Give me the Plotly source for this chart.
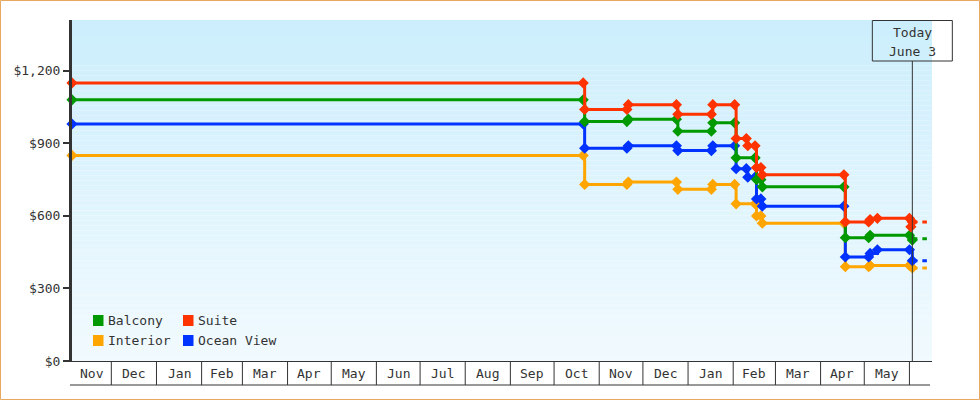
import plotly.graph_objects as go
import pandas as pd

# ---------------- data ----------------
month_labels = ["Nov", "Dec", "Jan", "Feb", "Mar", "Apr", "May", "Jun", "Jul", "Aug",
                "Sep", "Oct", "Nov", "Dec", "Jan", "Feb", "Mar", "Apr", "May"]
y_tick_vals = [0, 300, 600, 900, 1200]
y_tick_text = ["$0", "$300", "$600", "$900", "$1,200"]

suite_dates = ["2022-11-04", "2023-10-21", "2023-10-22", "2023-11-20", "2023-11-21", "2023-12-24",
               "2023-12-25", "2024-01-17", "2024-01-18", "2024-02-02", "2024-02-03", "2024-02-10",
               "2024-02-11", "2024-02-16", "2024-02-17", "2024-02-20", "2024-02-21", "2024-04-17",
               "2024-04-18", "2024-05-04", "2024-05-05", "2024-05-10", "2024-06-01", "2024-06-02",
               "2024-06-03"]
suite_prices = [1150, 1150, 1040, 1040, 1060, 1060, 1020, 1020, 1060, 1060, 920, 920,
                890, 890, 800, 800, 770, 770, 575, 575, 585, 590, 590, 555, 575]

balcony_dates = ["2022-11-04", "2023-10-21", "2023-10-22", "2023-11-20", "2023-11-21", "2023-12-24",
                 "2023-12-25", "2024-01-17", "2024-01-18", "2024-02-02", "2024-02-03", "2024-02-16",
                 "2024-02-17", "2024-02-20", "2024-02-21", "2024-04-17", "2024-04-18", "2024-05-04",
                 "2024-05-05", "2024-06-01", "2024-06-03"]
balcony_prices = [1080, 1080, 990, 990, 1000, 1000, 950, 950, 985, 985, 840, 840,
                  750, 750, 720, 720, 510, 510, 520, 520, 500]

ocean_dates = ["2022-11-04", "2023-10-21", "2023-10-22", "2023-11-20", "2023-11-21", "2023-12-24",
               "2023-12-25", "2024-01-17", "2024-01-18", "2024-02-02", "2024-02-03", "2024-02-10",
               "2024-02-11", "2024-02-16", "2024-02-17", "2024-02-20", "2024-02-21", "2024-04-17",
               "2024-04-18", "2024-05-04", "2024-05-05", "2024-05-10", "2024-06-01", "2024-06-03"]
ocean_prices = [980, 980, 880, 880, 890, 890, 870, 870, 890, 890, 795, 795,
                760, 760, 670, 670, 640, 640, 430, 430, 445, 460, 460, 415]

interior_dates = ["2022-11-04", "2023-10-21", "2023-10-22", "2023-11-20", "2023-11-21", "2023-12-24",
                  "2023-12-25", "2024-01-17", "2024-01-18", "2024-02-02", "2024-02-03", "2024-02-16",
                  "2024-02-17", "2024-02-20", "2024-02-21", "2024-04-17", "2024-04-18", "2024-05-04",
                  "2024-05-05", "2024-06-01", "2024-06-03"]
interior_prices = [850, 850, 730, 730, 740, 740, 710, 710, 730, 730, 650, 650,
                   600, 600, 570, 570, 390, 390, 395, 395, 385]

current_prices = {"Suite": 575, "Balcony": 505, "Ocean View": 415, "Interior": 385}

legend_rows = [["Balcony", "Suite"], ["Interior", "Ocean View"]]
colors = {"Balcony": "#009a00", "Suite": "#ff3300", "Interior": "#ffa500", "Ocean View": "#0033ff"}

today = "2024-06-03"
today_lines = ["Today", "June 3"]
forecast_end = "2024-06-13"
x_start = "2022-11-04"
x_end = "2024-06-16 12:00"

# ---------------- layout helpers ----------------
W, H = 980, 400
L, R, T, B = 72, 48, 20, 39
PW = W - L - R
PH = H - T - B
FONT = "DejaVu Sans Mono"
TXT = "#333333"


def px(xp):
    return (xp - L) / PW


def py(yp):
    return (H - B - yp) / PH


def date_frac(d):
    s, e = pd.Timestamp(x_start), pd.Timestamp(x_end)
    return (pd.Timestamp(d) - s) / (e - s)


fig = go.Figure()

series = [("Interior", interior_dates, interior_prices),
          ("Ocean View", ocean_dates, ocean_prices),
          ("Balcony", balcony_dates, balcony_prices),
          ("Suite", suite_dates, suite_prices)]

for name, d, p in series:
    c = colors[name]
    fig.add_trace(go.Scatter(x=[today, forecast_end], y=[current_prices[name]] * 2, mode="lines",
                             line=dict(color=c, width=3, dash="5px,5px"), showlegend=False,
                             hoverinfo="skip", cliponaxis=False))
for name, d, p in series:
    c = colors[name]
    fig.add_trace(go.Scatter(x=d, y=p, mode="lines+markers", name=name,
                             line=dict(color=c, width=3, shape="hv"),
                             marker=dict(symbol="diamond", size=7, color=c, line=dict(color=c, width=1.5)),
                             showlegend=False, cliponaxis=False))

shapes = []
# gradient background
top_c = (204, 238, 252)
bot_c = (241, 250, 254)
N = 68
for i in range(N):
    t = i / (N - 1)
    col = tuple(round(top_c[k] + (bot_c[k] - top_c[k]) * t) for k in range(3))
    shapes.append(dict(type="rect", xref="paper", yref="paper", x0=0, x1=1,
                       y0=1 - (i + 1) / N, y1=1 - i / N, fillcolor="rgb(%d,%d,%d)" % col,
                       line=dict(width=0), layer="below"))

# month boxes under the axis
month_starts = list(pd.date_range("2022-12-01", "2024-06-01", freq="MS"))
for ms in month_starts:
    shapes.append(dict(type="line", xref="x", yref="paper", x0=ms, x1=ms,
                       y0=py(385), y1=py(361), line=dict(color=TXT, width=1)))
shapes.append(dict(type="line", xref="paper", yref="paper", x0=px(70), x1=px(930),
                   y0=py(385), y1=py(385), line=dict(color=TXT, width=1)))

annotations = []
bounds = [pd.Timestamp(x_start)] + month_starts
for i, lab in enumerate(month_labels):
    mid = bounds[i] + (bounds[i + 1] - bounds[i]) / 2
    annotations.append(dict(x=mid, y=py(373), xref="x", yref="paper", text=lab, showarrow=False,
                            xanchor="center", yanchor="middle",
                            font=dict(family=FONT, size=13, color=TXT)))

# today marker (paper coordinates so it is not clipped at the plot edge)
tf = date_frac(today)
shapes.append(dict(type="line", xref="paper", yref="paper", x0=tf, x1=tf,
                   y0=0, y1=py(61), line=dict(color=TXT, width=1)))
shapes.append(dict(type="rect", xref="paper", yref="paper", xsizemode="pixel", xanchor=tf,
                   x0=-40, x1=40, y0=py(61), y1=py(20.5), line=dict(color=TXT, width=1),
                   fillcolor="rgba(0,0,0,0)"))
for txt, yy in zip(today_lines, [32.5, 51]):
    annotations.append(dict(x=tf, y=py(yy), xref="paper", yref="paper", text=txt, showarrow=False,
                            xanchor="center", yanchor="middle",
                            font=dict(family=FONT, size=13, color=TXT)))

# manual legend
col_x = [93, 183]
row_y = [320.5, 340.5]
for r, row in enumerate(legend_rows):
    for ci, name in enumerate(row):
        x0 = col_x[ci]
        yc = row_y[r]
        shapes.append(dict(type="rect", xref="paper", yref="paper", x0=px(x0), x1=px(x0 + 10.5),
                           y0=py(yc + 5.5), y1=py(yc - 5.5), fillcolor=colors[name],
                           line=dict(width=0)))
        annotations.append(dict(x=px(x0 + 13), y=py(yc), xref="paper", yref="paper", text=name,
                                showarrow=False, xanchor="left", yanchor="middle",
                                font=dict(family=FONT, size=13, color=TXT)))

# outer border
shapes.append(dict(type="rect", xref="paper", yref="paper", x0=px(0.5), x1=px(W - 0.5),
                   y0=py(H - 0.5), y1=py(0.5), line=dict(color="#e8a860", width=1)))

fig.update_layout(
    width=W, height=H,
    margin=dict(l=L, r=R, t=T, b=B, pad=0),
    paper_bgcolor="white", plot_bgcolor="rgba(0,0,0,0)",
    showlegend=False,
    shapes=shapes, annotations=annotations,
    xaxis=dict(type="date", range=[x_start, x_end], showgrid=False, zeroline=False,
               showticklabels=False, ticks="", showline=True, linecolor=TXT, linewidth=1,
               fixedrange=True),
    yaxis=dict(range=[0, 1410], tickvals=y_tick_vals, ticktext=y_tick_text, showgrid=False,
               zeroline=False, ticks="outside", ticklen=6, tickwidth=2, tickcolor=TXT,
               showline=True, linecolor=TXT, linewidth=3,
               tickfont=dict(family=FONT, size=13, color=TXT), fixedrange=True),
)

fig.write_html("out.html")
